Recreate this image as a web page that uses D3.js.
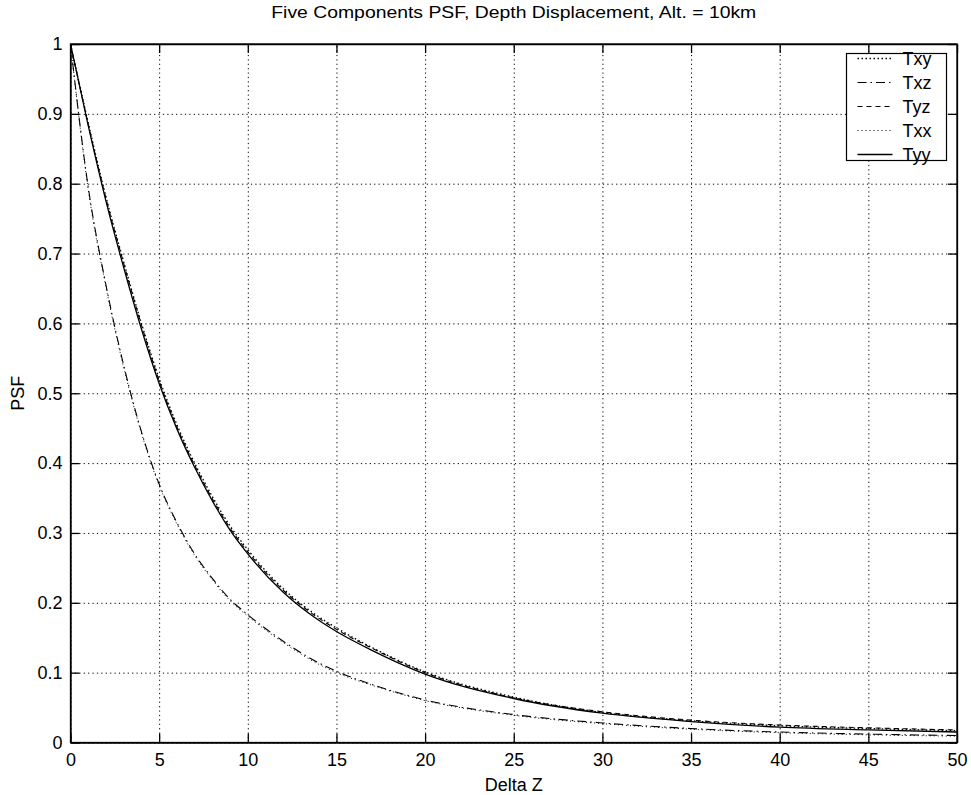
<!doctype html>
<html>
<head>
<meta charset="utf-8">
<title>Five Components PSF</title>
<script src="https://cdn.jsdelivr.net/npm/d3@7"></script>
<style>
  body { margin: 0; background: #fff; }
  text { font-family: "Liberation Sans", Arial, Helvetica, sans-serif; fill: #000; }
  .grid line { stroke: #000; stroke-dasharray: 1.2,3.2; stroke-width: 1; }
  .grid path { display: none; }
  .axis path, .axis line { stroke: #000; stroke-width: 1.3; }
  .curve { fill: none; stroke: #000; }
</style>
</head>
<body>
<div id="chart"></div>
<script>
// Delta Z sample points
var deltaZ = [0, 1, 2, 3, 4, 5, 6, 7, 8, 9, 10, 12, 14, 15, 17, 20, 25, 30, 35, 40, 45, 50];

// PSF values
var txy = [1.0, 0.887, 0.781, 0.688, 0.600, 0.521, 0.455, 0.400, 0.352, 0.310, 0.276, 0.220, 0.180, 0.164, 0.136, 0.101, 0.065, 0.043, 0.031, 0.024, 0.020, 0.017];
var txz = [1.0, 0.795, 0.655, 0.540, 0.445, 0.370, 0.315, 0.270, 0.235, 0.205, 0.183, 0.145, 0.114, 0.102, 0.083, 0.061, 0.040, 0.028, 0.020, 0.015, 0.012, 0.010];
var tyz = [1.0, 0.885, 0.779, 0.686, 0.598, 0.518, 0.452, 0.397, 0.349, 0.307, 0.273, 0.218, 0.178, 0.162, 0.135, 0.100, 0.064, 0.044, 0.032, 0.025, 0.021, 0.018];
var txx = [1.0, 0.792, 0.652, 0.537, 0.443, 0.368, 0.313, 0.268, 0.233, 0.203, 0.181, 0.143, 0.112, 0.100, 0.082, 0.060, 0.039, 0.027, 0.019, 0.014, 0.011, 0.009];
var tyy = [1.0, 0.883, 0.775, 0.680, 0.592, 0.514, 0.449, 0.394, 0.346, 0.304, 0.270, 0.215, 0.175, 0.159, 0.132, 0.098, 0.063, 0.042, 0.030, 0.022, 0.018, 0.015];

var seriesNames = ['Txy', 'Txz', 'Tyz', 'Txx', 'Tyy'];
var xTicks = [0, 5, 10, 15, 20, 25, 30, 35, 40, 45, 50];
var yTicks = [0, 0.1, 0.2, 0.3, 0.4, 0.5, 0.6, 0.7, 0.8, 0.9, 1];

var W = 971, H = 795;
var m = {left: 70.5, top: 44, right: 14, bottom: 52.5};
var w = W - m.left - m.right, h = H - m.top - m.bottom;

var svg = d3.select('#chart').append('svg')
  .attr('width', W).attr('height', H);

var x = d3.scaleLinear().domain([0, 50]).range([0, w]);
var y = d3.scaleLinear().domain([0, 1]).range([h, 0]);

var g = svg.append('g').attr('transform', 'translate(' + m.left + ',' + m.top + ')');

// dotted grid
g.append('g').attr('class', 'grid')
  .attr('transform', 'translate(0,' + h + ')')
  .call(d3.axisBottom(x).tickValues(xTicks).tickSize(-h).tickFormat(''));
g.append('g').attr('class', 'grid')
  .call(d3.axisLeft(y).tickValues(yTicks).tickSize(-w).tickFormat(''));

g.append('clipPath').attr('id', 'clip')
  .append('rect').attr('width', w).attr('height', h);

var styles = {
  Txy: {data: txy, dash: '1.5,2.5', width: 1.4},
  Txz: {data: txz, dash: '9,4,1.5,4', width: 1.1},
  Tyz: {data: tyz, dash: '5,4', width: 1.1},
  Txx: {data: txx, dash: '1,3', width: 1},
  Tyy: {data: tyy, dash: null, width: 1.3}
};

var line = d3.line()
  .x(function(d) { return x(d[0]); })
  .y(function(d) { return y(d[1]); })
  .curve(d3.curveMonotoneX);

seriesNames.forEach(function(name) {
  var s = styles[name];
  g.append('path')
    .attr('class', 'curve')
    .attr('clip-path', 'url(#clip)')
    .attr('d', line(d3.zip(deltaZ, s.data)))
    .attr('stroke-width', s.width)
    .attr('stroke-dasharray', s.dash);
});

// axes with inward ticks on all four sides
var fmt = d3.format('~g');
var xb = g.append('g').attr('class', 'axis')
  .attr('transform', 'translate(0,' + h + ')')
  .call(d3.axisBottom(x).tickValues(xTicks).tickSizeInner(-9).tickSizeOuter(0).tickPadding(11).tickFormat(fmt));
xb.selectAll('text').attr('font-size', 18).attr('dy', '0.71em');
g.append('g').attr('class', 'axis')
  .call(d3.axisTop(x).tickValues(xTicks).tickSizeInner(-9).tickSizeOuter(0).tickFormat(''));
var yl = g.append('g').attr('class', 'axis')
  .call(d3.axisLeft(y).tickValues(yTicks).tickSizeInner(-9).tickSizeOuter(0).tickPadding(8).tickFormat(fmt));
yl.selectAll('text').attr('font-size', 18);
g.append('g').attr('class', 'axis')
  .attr('transform', 'translate(' + w + ',0)')
  .call(d3.axisRight(y).tickValues(yTicks).tickSizeInner(-9).tickSizeOuter(0).tickFormat(''));
g.append('rect').attr('width', w).attr('height', h)
  .attr('fill', 'none').attr('stroke', '#000').attr('stroke-width', 1.3);

// legend
var lg = g.append('g').attr('transform', 'translate(' + (w - 110.5) + ',9.5)');
lg.append('rect').attr('width', 100).attr('height', 107)
  .attr('fill', '#fff').attr('stroke', '#000').attr('stroke-width', 1.2);
seriesNames.forEach(function(name, i) {
  var s = styles[name];
  var yy = 5 + i * 24;
  lg.append('line')
    .attr('x1', 11).attr('x2', 46).attr('y1', yy).attr('y2', yy)
    .attr('stroke', '#000').attr('stroke-width', s.width)
    .attr('stroke-dasharray', s.dash);
  lg.append('text').attr('x', 56).attr('y', yy).attr('dy', '0.35em')
    .attr('font-size', 18).text(name);
});

// titles
svg.append('text').attr('x', m.left + w / 2).attr('y', 18)
  .attr('text-anchor', 'middle').attr('font-size', 17)
  .attr('textLength', 485).attr('lengthAdjust', 'spacingAndGlyphs')
  .text('Five Components PSF, Depth Displacement, Alt. = 10km');
svg.append('text').attr('x', m.left + w / 2).attr('y', 791)
  .attr('text-anchor', 'middle').attr('font-size', 18).text('Delta Z');
svg.append('text')
  .attr('transform', 'translate(24,' + (m.top + h / 2) + ') rotate(-90)')
  .attr('text-anchor', 'middle').attr('font-size', 18).text('PSF');
</script>
</body>
</html>
